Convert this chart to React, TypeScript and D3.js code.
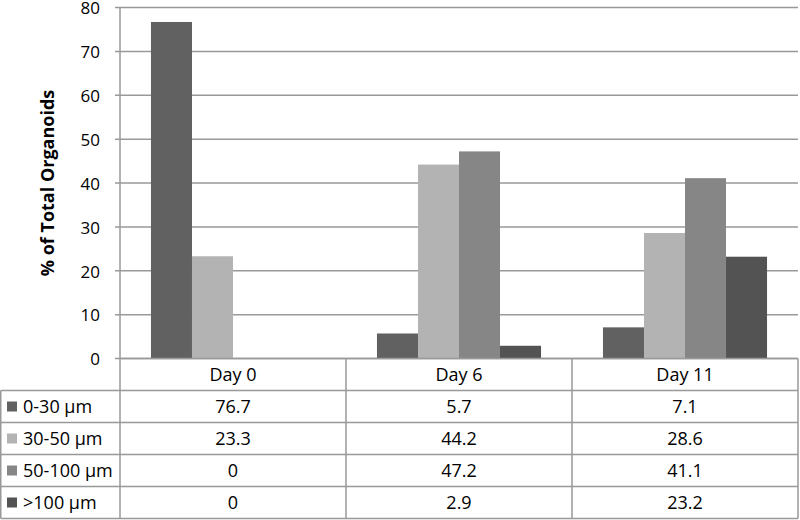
import * as d3 from "d3";
import { useEffect, useRef } from "react";

// categories and series
const days = ["Day 0", "Day 6", "Day 11"];
const sizes = ["0-30 µm", "30-50 µm", "50-100 µm", ">100 µm"];
const size0to30 = [76.7, 5.7, 7.1];
const size30to50 = [23.3, 44.2, 28.6];
const size50to100 = [0, 47.2, 41.1];
const sizeOver100 = [0, 2.9, 23.2];
const yTicks = [0, 10, 20, 30, 40, 50, 60, 70, 80];

const series = [size0to30, size30to50, size50to100, sizeOver100];
const colors = ["#616161", "#b3b3b3", "#868686", "#535353"];

const font = "'Open Sans', 'Noto Sans', sans-serif";

export default function App() {
    const svgRef = useRef<SVGSVGElement>(null);

    // chart box
    const width = 800, height = 520;
    const plot = { left: 120, right: 798, top: 7.5, bottom: 358.5 };
    const rowH = 32;
    const gridColor = "#999999";

    useEffect(() => {
        const svg = d3.select(svgRef.current);
        svg.selectAll("*").remove();

        const x = d3.scaleBand().domain(days).range([plot.left, plot.right]).paddingInner(0).paddingOuter(0);
        const inner = d3.scaleBand().domain(sizes).range([0, x.bandwidth()]).paddingOuter(0.755).paddingInner(0);
        const y = d3.scaleLinear().domain([0, 80]).range([plot.bottom, plot.top]);

        // gridlines + ticks
        svg.append("g").selectAll("line").data(yTicks).enter().append("line")
            .attr("x1", plot.left - 5).attr("x2", plot.right)
            .attr("y1", d => y(d)).attr("y2", d => y(d))
            .attr("stroke", gridColor).attr("stroke-width", 1.5);

        svg.append("g").selectAll("text").data(yTicks).enter().append("text")
            .attr("x", 100).attr("y", d => y(d)).attr("dy", "0.4em")
            .attr("text-anchor", "end")
            .style("font-family", font).style("font-size", "17px").attr("fill", "#000")
            .text(d => d);

        // y axis line
        svg.append("line")
            .attr("x1", plot.left).attr("x2", plot.left)
            .attr("y1", plot.top).attr("y2", plot.bottom + rowH * 5)
            .attr("stroke", gridColor).attr("stroke-width", 1.5);

        // bars
        const groups = svg.append("g").selectAll("g").data(days).enter().append("g")
            .attr("transform", d => `translate(${x(d)},0)`);
        groups.selectAll("rect")
            .data((_, i) => series.map((s, k) => ({ key: sizes[k], v: s[i], c: colors[k] })))
            .enter().append("rect")
            .attr("x", d => inner(d.key)!)
            .attr("width", inner.bandwidth())
            .attr("y", d => y(d.v))
            .attr("height", d => plot.bottom - y(d.v))
            .attr("fill", d => d.c);

        // data table
        const tbl = svg.append("g");
        const tableBottom = plot.bottom + rowH * 5;
        // horizontal lines
        for (let r = 0; r <= 5; r++) {
            const yy = plot.bottom + r * rowH;
            tbl.append("line")
                .attr("x1", r === 0 ? plot.left : 0.75).attr("x2", plot.right)
                .attr("y1", yy).attr("y2", yy)
                .attr("stroke", gridColor).attr("stroke-width", 1.5);
        }
        // vertical lines
        tbl.append("line").attr("x1", 0.75).attr("x2", 0.75)
            .attr("y1", plot.bottom + rowH).attr("y2", tableBottom)
            .attr("stroke", gridColor).attr("stroke-width", 1.5);
        days.forEach((d) => {
            const xx = x(d)! + x.bandwidth();
            tbl.append("line").attr("x1", xx).attr("x2", xx)
                .attr("y1", plot.bottom).attr("y2", tableBottom)
                .attr("stroke", gridColor).attr("stroke-width", 1.5);
        });

        // header
        tbl.selectAll(".hdr").data(days).enter().append("text")
            .attr("class", "hdr")
            .attr("x", d => x(d)! + x.bandwidth() / 2)
            .attr("y", plot.bottom + rowH / 2).attr("dy", "0.36em")
            .attr("text-anchor", "middle")
            .style("font-family", font).style("font-size", "18px")
            .text(d => d);

        // rows
        sizes.forEach((s, k) => {
            const yy = plot.bottom + (k + 1) * rowH + rowH / 2;
            tbl.append("rect").attr("x", 7).attr("y", yy - 5).attr("width", 10).attr("height", 10)
                .attr("fill", colors[k]);
            tbl.append("text").attr("x", 23).attr("y", yy).attr("dy", "0.36em")
                .style("font-family", font).style("font-size", "18px").text(s);
            days.forEach((d, i) => {
                tbl.append("text")
                    .attr("x", x(d)! + x.bandwidth() / 2).attr("y", yy).attr("dy", "0.36em")
                    .attr("text-anchor", "middle")
                    .style("font-family", font).style("font-size", "18px")
                    .text(series[k][i]);
            });
        });

        // y axis title
        svg.append("text")
            .attr("transform", `translate(54,${183}) rotate(-90)`)
            .attr("text-anchor", "middle")
            .style("font-family", font).style("font-size", "18px").style("font-weight", "bold")
            .text("% of Total Organoids");
    }, []);

    return (
        <div style={{ position: "absolute", left: 0, top: 0, background: "#fff" }}>
            <svg ref={svgRef} width={width} height={height} style={{ display: "block" }} />
        </div>
    );
}
